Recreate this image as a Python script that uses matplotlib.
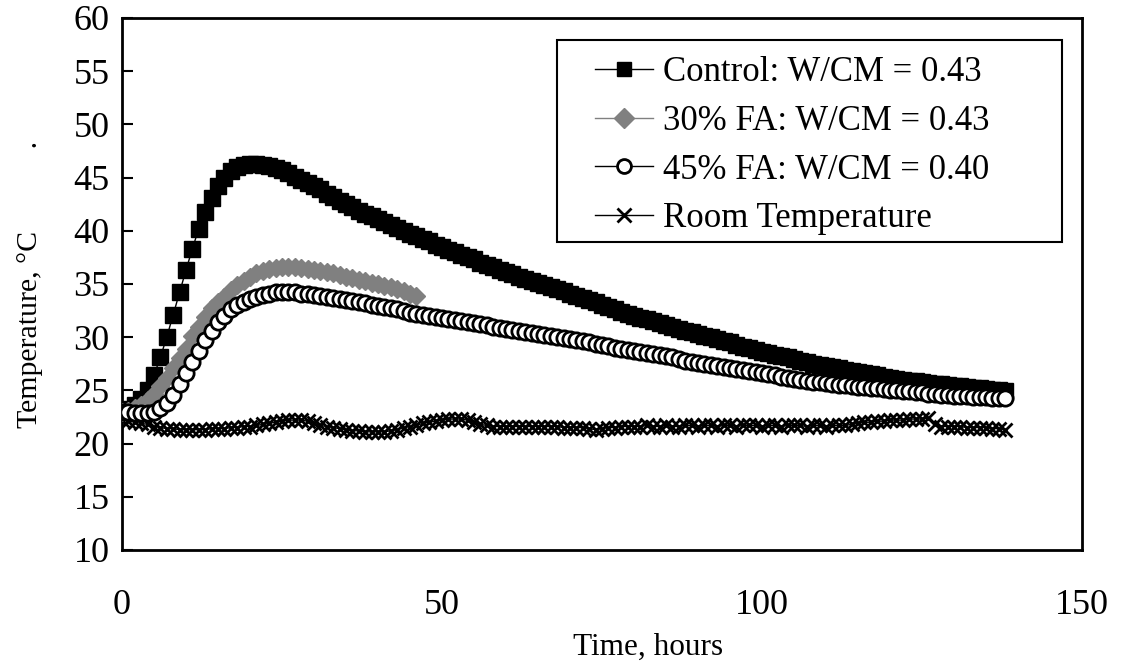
import matplotlib
matplotlib.use("Agg")
import matplotlib.pyplot as plt
from matplotlib.patches import Rectangle

plt.rcParams['font.family'] = ['Liberation Serif', 'DejaVu Serif']

# ---------------- data (hourly readings) ----------------
control = [23.0, 23.2, 23.6, 24.2, 25.0, 26.4, 28.1, 30.0, 32.1, 34.2,
           36.3, 38.3, 40.2, 41.8, 43.1, 44.2, 45.0, 45.6, 46.0, 46.2,
           46.3, 46.3, 46.2, 46.1, 45.9, 45.7, 45.4, 45.1, 44.8, 44.5,
           44.2, 43.9, 43.5, 43.2, 42.8, 42.5, 42.2, 41.9, 41.6, 41.4,
           41.1, 40.8, 40.5, 40.3, 40.0, 39.7, 39.5, 39.2, 39.0, 38.7,
           38.5, 38.2, 38.0, 37.7, 37.5, 37.3, 37.0, 36.8, 36.6, 36.3,
           36.1, 35.9, 35.7, 35.5, 35.3, 35.1, 34.9, 34.7, 34.5, 34.3,
           34.1, 33.9, 33.7, 33.5, 33.3, 33.0, 32.8, 32.6, 32.4, 32.2,
           32.0, 31.8, 31.7, 31.5, 31.3, 31.1, 31.0, 30.8, 30.6, 30.5,
           30.3, 30.1, 30.0, 29.8, 29.6, 29.5, 29.3, 29.1, 29.0, 28.8,
           28.6, 28.5, 28.3, 28.2, 28.1, 27.9, 27.8, 27.7, 27.5, 27.4,
           27.3, 27.2, 27.1, 26.9, 26.8, 26.7, 26.6, 26.5, 26.4, 26.3,
           26.2, 26.1, 26.0, 25.9, 25.9, 25.8, 25.7, 25.6, 25.6, 25.5,
           25.4, 25.4, 25.3, 25.2, 25.2, 25.1, 25.0, 25.0, 24.9]

fa30 = [23.0, 23.1, 23.3, 23.6, 24.1, 24.7, 25.4, 26.2, 27.1, 28.0,
        28.9, 30.1, 31.0, 31.9, 32.7, 33.3, 33.8, 34.4, 34.9, 35.3,
        35.7, 36.0, 36.2, 36.4, 36.5, 36.6, 36.6, 36.6, 36.5, 36.4,
        36.3, 36.2, 36.1, 36.0, 35.8, 35.7, 35.6, 35.4, 35.3, 35.1,
        35.0, 34.8, 34.7, 34.5, 34.3, 34.1, 33.9]

fa45 = [23.0, 23.0, 22.9, 22.9, 22.9, 23.0, 23.3, 23.8, 24.6, 25.6,
        26.6, 27.7, 28.7, 29.7, 30.6, 31.4, 32.0, 32.6, 33.0, 33.3,
        33.6, 33.8, 34.0, 34.1, 34.2, 34.2, 34.2, 34.2, 34.1, 34.1,
        34.0, 33.9, 33.8, 33.7, 33.6, 33.5, 33.4, 33.3, 33.2, 33.0,
        32.9, 32.8, 32.7, 32.6, 32.5, 32.3, 32.2, 32.1, 32.0, 31.9,
        31.8, 31.7, 31.6, 31.5, 31.4, 31.3, 31.2, 31.1, 31.0, 30.9,
        30.8, 30.7, 30.6, 30.5, 30.4, 30.3, 30.2, 30.1, 30.0, 29.9,
        29.8, 29.7, 29.6, 29.5, 29.4, 29.3, 29.2, 29.0, 28.9, 28.8,
        28.7, 28.6, 28.5, 28.4, 28.3, 28.2, 28.1, 27.9, 27.8, 27.7,
        27.6, 27.5, 27.4, 27.3, 27.2, 27.1, 27.0, 26.9, 26.8, 26.7,
        26.6, 26.5, 26.4, 26.3, 26.2, 26.1, 26.0, 25.9, 25.8, 25.8,
        25.7, 25.6, 25.5, 25.5, 25.4, 25.3, 25.3, 25.2, 25.2, 25.1,
        25.0, 25.0, 24.9, 24.9, 24.8, 24.8, 24.7, 24.7, 24.6, 24.6,
        24.5, 24.5, 24.5, 24.4, 24.4, 24.4, 24.3, 24.3, 24.3]

room = [22.2, 22.1, 22.0, 21.9, 21.8, 21.6, 21.5, 21.4, 21.4, 21.3,
        21.3, 21.3, 21.3, 21.3, 21.4, 21.4, 21.4, 21.5, 21.5, 21.6,
        21.6, 21.7, 21.8, 21.9, 22.0, 22.1, 22.2, 22.2, 22.2, 22.1,
        21.9, 21.7, 21.6, 21.5, 21.4, 21.3, 21.2, 21.2, 21.1, 21.1,
        21.1, 21.1, 21.2, 21.3, 21.5, 21.6, 21.7, 21.9, 22.0, 22.1,
        22.2, 22.3, 22.3, 22.3, 22.2, 22.0, 21.8, 21.7, 21.6, 21.6,
        21.6, 21.6, 21.6, 21.6, 21.6, 21.6, 21.6, 21.6, 21.6, 21.5,
        21.5, 21.5, 21.5, 21.4, 21.3, 21.4, 21.5, 21.5, 21.6, 21.6,
        21.6, 21.6, 21.7, 21.6, 21.6, 21.7, 21.6, 21.6, 21.7, 21.7,
        21.6, 21.7, 21.7, 21.6, 21.7, 21.7, 21.6, 21.7, 21.7, 21.7,
        21.6, 21.7, 21.7, 21.6, 21.7, 21.7, 21.7, 21.6, 21.7, 21.7,
        21.6, 21.7, 21.7, 21.7, 21.8, 21.9, 22.0, 22.0, 22.1, 22.1,
        22.2, 22.2, 22.2, 22.3, 22.3, 22.3, 22.4, 21.8, 21.6, 21.6,
        21.6, 21.6, 21.5, 21.5, 21.5, 21.5, 21.4, 21.4, 21.3]

hours_long = list(range(len(control)))
hours_fa30 = list(range(len(fa30)))

labels = ["Control: W/CM = 0.43", "30% FA: W/CM = 0.43",
          "45% FA: W/CM = 0.40", "Room Temperature"]
x_ticks = [0, 50, 100, 150]
y_ticks = [10, 15, 20, 25, 30, 35, 40, 45, 50, 55, 60]

# ---------------- figure ----------------
fig = plt.figure(figsize=(11.22, 6.69), dpi=100)
ax = fig.add_axes([0.1087, 0.178, 0.8556, 0.7951])

ms = 11
ax.plot(hours_long, control, color='black', lw=1, marker='s', ms=ms,
        mfc='black', mec='black', label=labels[0], zorder=3)
ax.plot(hours_fa30, fa30, color='#808080', lw=1, marker='D', ms=ms * 0.85,
        mfc='#808080', mec='#808080', label=labels[1], zorder=4)
ax.plot(hours_long, fa45, color='black', lw=1, marker='o', ms=ms,
        mfc='white', mec='black', mew=2, label=labels[2], zorder=5)
ax.plot(hours_long, room, color='black', lw=1, marker='x', ms=ms * 0.9,
        mec='black', mew=2, label=labels[3], zorder=2)

ax.set_xlim(0, 150)
ax.set_ylim(10, 60)
ax.set_xticks(x_ticks)
ax.set_yticks(y_ticks)
ax.tick_params(axis='y', direction='in', length=8, width=1.5, labelsize=26, pad=9)
ax.tick_params(axis='x', direction='in', length=0, labelsize=26, pad=28)
for s in ax.spines.values():
    s.set_linewidth(2)

ax.set_xlabel("Time, hours", fontsize=22.5)
ax.xaxis.set_label_coords(0.548, -0.156)
ax.set_ylabel("Temperature, \u00b0C           .", fontsize=21.5)
ax.yaxis.set_label_coords(-0.082, 0.5)

# legend box (axes fraction)
ax.add_patch(Rectangle((0.453, 0.579), 0.526, 0.3796, transform=ax.transAxes,
                       fill=True, facecolor='white', edgecolor='black',
                       lw=1.5, zorder=6))
leg = ax.legend(loc='upper left', bbox_to_anchor=(0.4927, 0.928), fontsize=25,
                frameon=False, handlelength=1.67, handletextpad=0.29,
                labelspacing=0.45, borderpad=0, borderaxespad=0)
leg.set_zorder(7)
for h in leg.legend_handles:
    h.set_markersize(10)

fig.savefig("out.png", dpi=100)
